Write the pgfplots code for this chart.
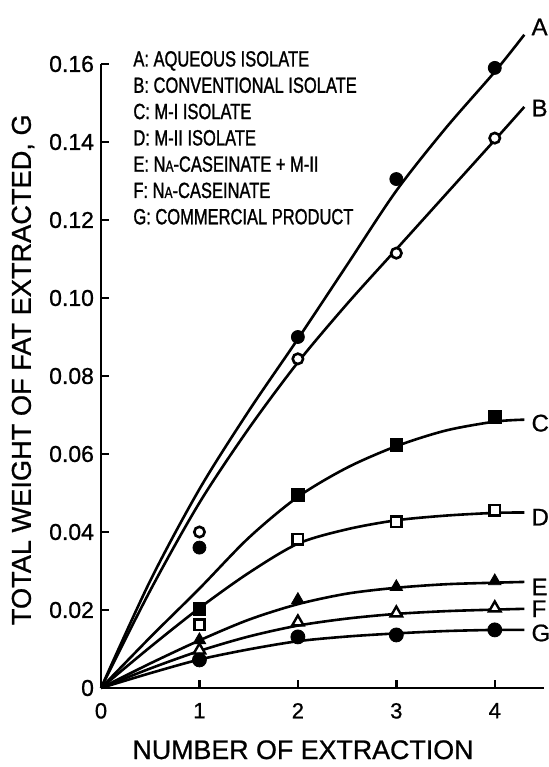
\documentclass[border=0pt]{standalone}
\usepackage{pgfplots}
\pgfplotsset{compat=1.18}
\usepackage{fontspec}
\setmainfont{Liberation Sans}[FakeBold=0.8]
\newfontfamily\legfont[FakeStretch=0.75,FakeBold=1.2]{Liberation Sans}

\newcommand{\sm}[1]{{\fontsize{8}{8}\selectfont #1}}

\begin{document}
\begin{tikzpicture}
\useasboundingbox (-50.5pt,-39.5pt) rectangle (224pt,344pt);
\begin{axis}[
  scale only axis, width=221.5pt, height=312pt,
  xmin=0, xmax=4.5, ymin=0, ymax=0.16,
  axis x line=bottom, axis y line=left,
  axis line style={-, line width=1.4pt},
  xtick={0,1,2,3,4}, xticklabels={0,1,2,3,4},
  ytick={0,0.02,0.04,0.06,0.08,0.10,0.12,0.14,0.16},
  yticklabels={0,0.02,0.04,0.06,0.08,0.10,0.12,0.14,0.16},
  tick align=inside, major tick length=4pt,
  tick style={line width=1.2pt, black},
  yticklabel style={font=\fontsize{11.5}{12}\selectfont},
  xticklabel style={font=\fontsize{11}{12}\selectfont, yshift=-4pt},
  xlabel={NUMBER OF EXTRACTION},
  xlabel style={font=\fontsize{13.4}{15}\selectfont, at={(axis description cs:0.456,-0.099)}, anchor=center},
  ylabel={TOTAL WEIGHT OF FAT EXTRACTED, G},
  ylabel style={font=\fontsize{13.6}{16}\selectfont, at={(axis description cs:-0.176,0.51)}, anchor=center},
  clip=false]

% fitted curves
\addplot[smooth, line width=1.3pt] coordinates {(0,0) (0.5,0.0275) (1,0.051) (1.5,0.071) (2,0.0895) (2.5,0.1085) (3,0.1275) (3.5,0.1435) (4,0.158) (4.3,0.1675)};
\addplot[smooth, line width=1.3pt] coordinates {(0,0) (0.5,0.025) (1,0.0475) (1.5,0.0665) (2,0.0835) (2.5,0.0985) (3,0.1125) (3.5,0.1265) (4,0.1405) (4.3,0.149)};
\addplot[smooth, line width=1.3pt] coordinates {(0,0) (0.5,0.013) (1,0.0255) (1.5,0.0385) (2,0.049) (2.5,0.0565) (3,0.062) (3.5,0.066) (4,0.0683) (4.3,0.0688)};
\addplot[smooth, line width=1.3pt] coordinates {(0,0) (0.5,0.0105) (1,0.0205) (1.5,0.0295) (2,0.037) (2.5,0.0407) (3,0.043) (3.5,0.0442) (4,0.0449) (4.3,0.045)};
\addplot[smooth, line width=1.3pt] coordinates {(0,0) (0.5,0.0063) (1,0.0122) (1.5,0.0175) (2,0.0215) (2.5,0.0242) (3,0.0257) (3.5,0.0266) (4,0.027) (4.3,0.0272)};
\addplot[smooth, line width=1.3pt] coordinates {(0,0) (0.5,0.005) (1,0.0095) (1.5,0.0132) (2,0.016) (2.5,0.0178) (3,0.019) (3.5,0.0197) (4,0.0201) (4.3,0.0203)};
\addplot[smooth, line width=1.3pt] coordinates {(0,0) (0.5,0.0038) (1,0.0073) (1.5,0.0099) (2,0.012) (2.5,0.0132) (3,0.014) (3.5,0.0146) (4,0.0149) (4.3,0.0149)};

% measured points
\addplot[only marks, mark=*, mark size=3.25pt, fill=black] coordinates {(1,0.036) (2,0.090) (3,0.1305) (4,0.159)};
\addplot[only marks, mark=*, mark size=2.6pt, mark options={fill=white, draw=black, line width=1.3pt}] coordinates {(1,0.040) (2,0.0844) (3,0.1115) (4,0.141)};
\addplot[only marks, mark=square*, mark size=3.2pt, fill=black] coordinates {(1,0.0203) (2,0.0495) (3,0.0623) (4,0.0695)};
\addplot[only marks, mark=square*, mark size=2.6pt, mark options={fill=white, draw=black, line width=1.3pt}] coordinates {(1,0.0162) (2,0.0382) (3,0.0426) (4,0.0456)};
\addplot[only marks, mark=triangle*, mark size=3.6pt, fill=black] coordinates {(1,0.0123) (2,0.0226) (3,0.0259) (4,0.0274)};
\addplot[only marks, mark=triangle*, mark size=3.3pt, mark options={fill=white, draw=black, line width=1.2pt}] coordinates {(1,0.0097) (2,0.0169) (3,0.0192) (4,0.0205)};
\addplot[only marks, mark=*, mark size=3.5pt, fill=black] coordinates {(1,0.0072) (2,0.0131) (3,0.0136) (4,0.0149)};

% curve letters
\begin{scope}[every node/.style={anchor=west, inner sep=0pt, font=\fontsize{12}{12}\selectfont}]
\node at (axis cs:4.37,0.1695) {A};
\node at (axis cs:4.37,0.1487) {B};
\node at (axis cs:4.37,0.0679) {C};
\node at (axis cs:4.37,0.0438) {D};
\node at (axis cs:4.37,0.0259) {E};
\node at (axis cs:4.37,0.0203) {F};
\node at (axis cs:4.37,0.0141) {G};
\end{scope}
\end{axis}

% key
\begin{scope}[every node/.style={anchor=base west, inner sep=0pt, font=\legfont\fontsize{11}{11}\selectfont}]
\node at (16pt,310.75pt) {A: AQUEOUS ISOLATE};
\node at (16pt,297.6pt) {B: CONVENTIONAL ISOLATE};
\node at (16pt,284.45pt) {C: M-I ISOLATE};
\node at (16pt,271.3pt) {D: M-II ISOLATE};
\node at (16pt,258.15pt) {E: N\sm{A}-CASEINATE + M-II};
\node at (16pt,245pt) {F: N\sm{A}-CASEINATE};
\node at (16pt,231.85pt) {G: COMMERCIAL PRODUCT};
\end{scope}
\end{tikzpicture}
\end{document}
